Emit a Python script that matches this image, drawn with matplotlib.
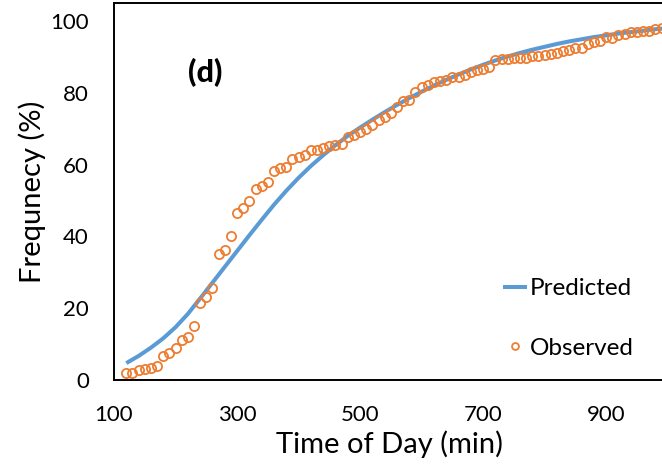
import numpy as np
import matplotlib.pyplot as plt

plt.rcParams['font.family'] = ['Lato', 'DejaVu Sans']

# observed cumulative frequency, one reading every 10 minutes
obs_time = np.arange(120, 1000, 10)
obs_freq = [2.0, 2.0, 2.8, 3.2, 3.4, 4.0, 6.8, 7.4, 8.8, 11.1,
            12.0, 15.0, 21.5, 23.0, 25.5, 35.2, 36.1, 40.1, 46.6, 47.9,
            49.8, 53.2, 53.9, 55.1, 58.1, 59.0, 59.3, 61.6, 62.0, 62.7,
            64.1, 64.1, 64.6, 65.3, 65.5, 65.7, 67.8, 68.1, 69.2, 69.9,
            71.0, 72.4, 73.3, 74.3, 76.1, 77.8, 78.1, 80.3, 81.7, 82.1,
            82.9, 83.2, 83.5, 84.3, 84.4, 85.0, 85.9, 86.4, 86.6, 87.2,
            89.1, 89.4, 89.4, 89.6, 89.8, 89.8, 90.1, 90.3, 90.5, 90.9,
            91.0, 91.7, 91.9, 92.4, 92.6, 93.7, 94.0, 94.4, 95.4, 95.2,
            96.1, 96.5, 96.8, 96.8, 97.1, 97.1, 97.7, 98.0]

# fitted model, every 20 minutes
pred_time = np.arange(120, 1040, 20)
pred_freq = [4.7, 6.7, 9.0, 11.6, 14.7, 18.4, 22.7, 27.1, 31.5, 35.9,
             40.3, 44.6, 48.8, 52.7, 56.3, 59.6, 62.6, 65.4, 68.0, 70.3,
             72.5, 74.6, 76.6, 78.5, 80.3, 82.0, 83.6, 85.1, 86.5, 87.8,
             89.0, 90.1, 91.1, 92.0, 92.8, 93.6, 94.3, 94.9, 95.5, 96.0,
             96.5, 96.9, 97.3, 97.7, 98.0, 98.3]

blue = '#5B9BD5'
orange = '#ED7D31'

fig = plt.figure(figsize=(6.62, 4.66), dpi=100)
ax = fig.add_axes([114 / 662, 86 / 466, 566 / 662, 377 / 466])

ax.plot(pred_time, pred_freq, color=blue, lw=2.9, label='Predicted',
        solid_capstyle='butt', solid_joinstyle='round', zorder=2)
ax.plot(obs_time, obs_freq, 'o', mfc='none', mec=orange, ms=6.6, mew=1.3,
        label='Observed', zorder=3)

ax.set_xlim(100, 1020)
ax.set_ylim(0, 105)
ax.set_xticks([100, 300, 500, 700, 900])
ax.set_yticks([0, 20, 40, 60, 80, 100])
ax.tick_params(length=0, labelsize=16, pad=18)
for side in ['left', 'bottom', 'top']:
    ax.spines[side].set_linewidth(1.4)
    ax.spines[side].set_color('black')
ax.spines['right'].set_visible(False)

# the plot area runs off the right edge, so centre the label by hand
ax.set_xlabel('Time of Day (min)', fontsize=21, labelpad=4, x=0.4876)
ax.set_ylabel('Frequnecy (%)', fontsize=21, labelpad=3)

fig.text(205 / 662, 1 - 73 / 466, '(d)', fontsize=22, fontweight='black',
         ha='center', va='center')

fig.legend(loc='upper left', bbox_to_anchor=(503 / 662, 1 - 278 / 466),
           frameon=False, fontsize=17.5, handlelength=1.0, handletextpad=0.12,
           labelspacing=1.6, borderpad=0, borderaxespad=0, markerscale=0.75)

fig.savefig('out.png', dpi=100)
